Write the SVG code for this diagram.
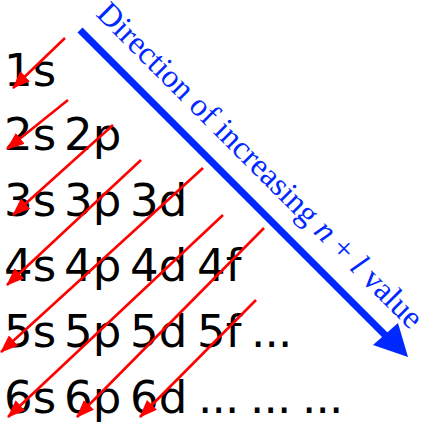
<svg xmlns="http://www.w3.org/2000/svg" width="425" height="423" viewBox="0 0 425 423">
  <defs>
    <style>
      .orb { font-family: "DejaVu Sans", "Liberation Sans", sans-serif; font-size: 45px; fill: #000; }
      .lbl { font-family: "Liberation Serif", "Times New Roman", serif; font-size: 32.5px; fill: #0028ff; }
      .red { stroke: #ff0000; stroke-width: 2.6; fill: none; marker-end: url(#rh); }
    </style>
    <marker id="rh" markerUnits="userSpaceOnUse" markerWidth="18" markerHeight="14" viewBox="0 0 18 14" refX="17" refY="7" orient="auto">
      <path d="M0,0 L18,7 L0,14 z" fill="#ff0000"/>
    </marker>
  </defs>
  <rect width="425" height="423" fill="#fff"/>

  <g id="row1"><text class="orb" x="4" y="86">1s</text></g>
  <g id="row2"><text class="orb" y="150"><tspan x="4">2s</tspan><tspan x="64">2p</tspan></text></g>
  <g id="row3"><text class="orb" y="216"><tspan x="4">3s</tspan><tspan x="64">3p</tspan><tspan x="130">3d</tspan></text></g>
  <g id="row4"><text class="orb" y="281"><tspan x="4">4s</tspan><tspan x="64">4p</tspan><tspan x="130">4d</tspan><tspan x="197">4f</tspan></text></g>
  <g id="row5"><text class="orb" y="347"><tspan x="4">5s</tspan><tspan x="64">5p</tspan><tspan x="130">5d</tspan><tspan x="197">5f</tspan><tspan x="251" letter-spacing="-0.8">...</tspan></text></g>
  <g id="row6"><text class="orb" y="413"><tspan x="4">6s</tspan><tspan x="64">6p</tspan><tspan x="130">6d</tspan><tspan x="198" letter-spacing="-0.8">...</tspan><tspan x="250" letter-spacing="-0.8">...</tspan><tspan x="302" letter-spacing="-0.8">...</tspan></text></g>

  <g id="connectors">
    <line class="red" x1="65" y1="38" x2="13" y2="88"/>
    <line class="red" x1="68" y1="100" x2="7" y2="149"/>
    <line class="red" x1="113" y1="125" x2="13" y2="215"/>
    <line class="red" x1="141" y1="160" x2="7" y2="285"/>
    <line class="red" x1="203" y1="168" x2="1" y2="352"/>
    <line class="red" x1="223" y1="215" x2="8" y2="417"/>
    <line class="red" x1="264" y1="228" x2="77" y2="417"/>
    <line class="red" x1="256" y1="300" x2="140" y2="417"/>
  </g>

  <g id="direction">
    <line x1="80" y1="30" x2="388" y2="338" stroke="#0028ff" stroke-width="7"/>
    <polygon points="408,357 373,345 398,323" fill="#0028ff"/>
    <text class="lbl" transform="translate(95,15) rotate(45)">Direction of increasing <tspan font-style="italic">n</tspan> + <tspan font-style="italic">l</tspan> value</text>
  </g>
</svg>
